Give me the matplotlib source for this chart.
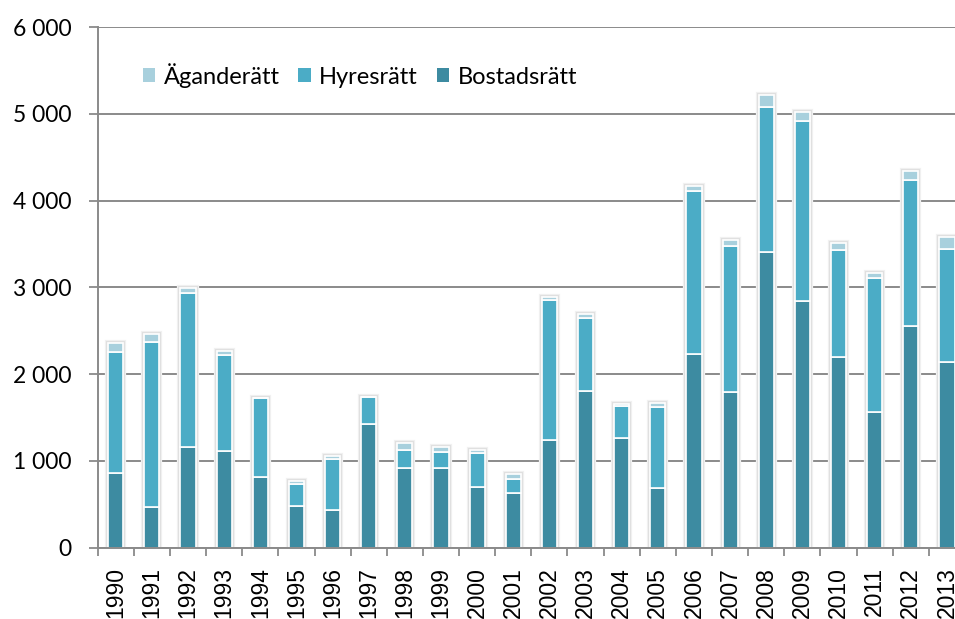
import matplotlib
matplotlib.use("Agg")
import matplotlib.pyplot as plt
import numpy as np

years = [str(y) for y in range(1990, 2014)]
bostadsratt = [854, 465, 1158, 1111, 815, 477, 435, 1419, 915, 919, 700, 627,
               1235, 1800, 1261, 681, 2230, 1790, 3403, 2839, 2193, 1566, 2557, 2137]
hyresratt = [1404, 1904, 1773, 1104, 908, 261, 584, 312, 204, 177, 385, 165,
             1621, 852, 366, 942, 1885, 1682, 1674, 2079, 1243, 1537, 1684, 1311]
aganderatt = [104, 89, 61, 50, 0, 31, 31, 0, 85, 58, 38, 50,
              38, 37, 31, 42, 57, 80, 145, 107, 75, 61, 96, 134]
yticks = [0, 1000, 2000, 3000, 4000, 5000, 6000]
ytick_labels = ["0", "1 000", "2 000", "3 000", "4 000", "5 000", "6 000"]

c_bost = "#3d8ba1"
c_hyr = "#4bacc6"
c_ag = "#a8d0dd"
axis_col = "#8a8a8a"

fig = plt.figure(figsize=(9.55, 6.19), dpi=100)
W, H = 955, 619
x0, x1 = 97.7, 965.0
y0, y1 = 547.5, 27.3
ax = fig.add_axes([x0 / W, (H - y0) / H, (x1 - x0) / W, (y0 - y1) / H])

x = np.arange(len(years))
b = np.array(bostadsratt)
h = np.array(hyresratt)
a = np.array(aganderatt)
total = b + h + a
bw = 0.42

# soft shadow around each bar
ax.bar(x, total, bw, color="none", edgecolor="#f2f2f2", linewidth=4.5, zorder=1.6)
ax.bar(x, total, bw, color="none", edgecolor="#e0e0e0", linewidth=3.0, zorder=1.7)

ax.bar(x, b, bw, color=c_bost, edgecolor="white", linewidth=1.2, zorder=2, label="Bostadsrätt")
ax.bar(x, h, bw, bottom=b, color=c_hyr, edgecolor="white", linewidth=1.2, zorder=2, label="Hyresrätt")
ax.bar(x, a, bw, bottom=b + h, color=c_ag, edgecolor="white", linewidth=1.2, zorder=2, label="Äganderätt")

ax.set_xlim(-0.5, len(years) - 0.5)
ax.set_ylim(0, 6000)

ax.set_yticks(yticks)
ax.set_yticklabels(ytick_labels, family="Lato", fontsize=16.5)
ax.yaxis.grid(True, color=axis_col, linewidth=1.4, zorder=1)
ax.set_axisbelow(True)
ax.tick_params(axis="y", length=6.5, width=1.3, color=axis_col, pad=12.5)

ax.set_xticks(x)
ax.set_xticklabels(years, rotation=90, family="Liberation Sans", fontsize=16.5, va="top")
ax.set_xticks(np.arange(-0.5, len(years), 1), minor=True)
ax.tick_params(axis="x", which="major", length=0, pad=14)
ax.tick_params(axis="x", which="minor", length=5.5, width=1.3, color=axis_col)

for s in ["top", "right"]:
    ax.spines[s].set_visible(False)
for s in ["left", "bottom"]:
    ax.spines[s].set_color(axis_col)
    ax.spines[s].set_linewidth(1.4)

handles, labels = ax.get_legend_handles_labels()
order = [2, 1, 0]
leg = ax.legend([handles[i] for i in order], [labels[i] for i in order],
                loc="center left", bbox_to_anchor=((142.7 - x0) / (x1 - x0), (y0 - 75.3) / (y0 - y1)),
                ncol=3, frameon=False, borderpad=0, borderaxespad=0,
                handlelength=0.53, handleheight=0.53, handletextpad=0.35,
                columnspacing=0.8, prop={"family": "Lato", "size": 17})
for p in leg.get_patches():
    p.set_edgecolor("none")

fig.savefig("out.png", dpi=100)
